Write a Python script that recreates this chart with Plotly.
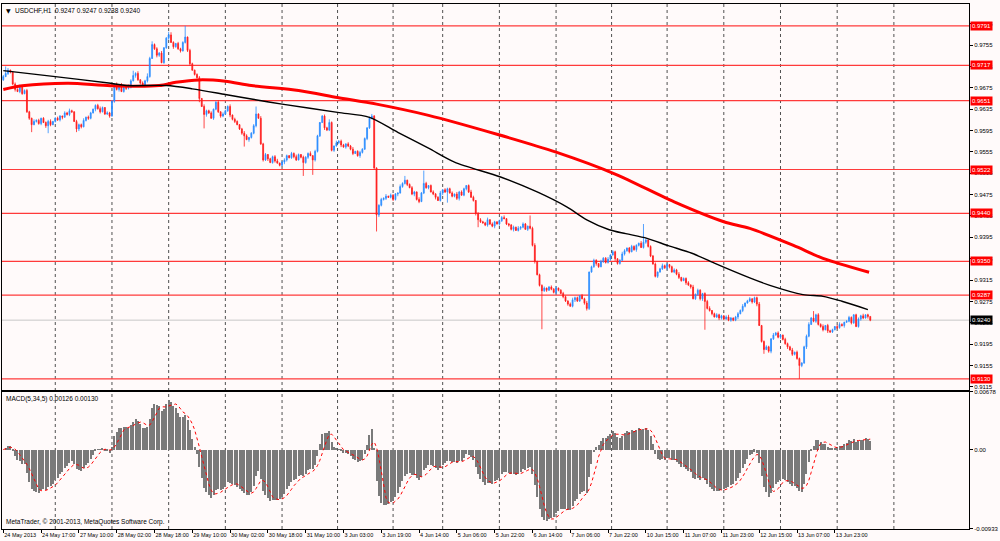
import plotly.graph_objects as go

# ------------------------------------------------------------------ data
SYMBOL_TEXT = "USDCHF,H1  0.9247 0.9247 0.9238 0.9240"
MACD_TEXT = "MACD(5,34,5) 0.00126 0.00130"
COPYRIGHT = "MetaTrader, \u00a9 2001-2013, MetaQuotes Software Corp."

OPEN_FIRST_PIPS = 9690
# hourly closes (price * 10000), bar 0 = 24 May 2013
CLOSE_PIPS = [
    9696, 9702, 9708, 9704, 9682, 9672, 9668, 9676, 9664, 9670,
    9630, 9618, 9606, 9612, 9614, 9608, 9618, 9610, 9604, 9612, 9606,
    9612, 9618, 9615, 9622, 9620, 9628, 9625, 9632, 9630, 9612, 9598,
    9606, 9602, 9614, 9620, 9618, 9628, 9635, 9642,
    9636, 9630, 9638, 9626, 9628, 9622, 9650, 9682, 9672, 9680, 9668, 9676, 9674,
    # 53..104
    9676, 9688, 9698, 9702, 9690, 9684, 9680, 9688, 9696, 9730, 9756,
    9748, 9736, 9740, 9722, 9750, 9768, 9774, 9760, 9752, 9758, 9748, 9744, 9760,
    9770, 9745, 9720, 9708, 9700, 9694, 9655, 9640, 9625, 9632,
    9628, 9618, 9635, 9648, 9630, 9622, 9626, 9632, 9640, 9624, 9616, 9612,
    9606, 9598, 9590, 9585, 9578, 9582,
    # 105..157
    9590, 9604, 9626, 9618, 9570, 9540, 9550, 9542, 9535, 9546, 9538,
    9534, 9530, 9536, 9540, 9548, 9544, 9552, 9546, 9540, 9550, 9545, 9535,
    9545, 9552, 9548, 9540, 9556, 9585, 9610, 9622, 9600, 9596, 9610, 9558,
    9566, 9572, 9575, 9568, 9564, 9570, 9566, 9560, 9552, 9556, 9548, 9554, 9560,
    9580, 9600, 9618, 9622, 9525,
    # 158..210
    9437, 9455, 9466, 9468, 9472, 9470, 9474, 9466, 9476, 9478,
    9490, 9496, 9502, 9494, 9488, 9476, 9480, 9466, 9462, 9478, 9496,
    9488, 9492, 9480, 9476, 9470, 9464, 9478, 9484, 9480, 9486, 9478,
    9472, 9476, 9468, 9480, 9474, 9486, 9492, 9480, 9470, 9464,
    9440, 9428, 9424, 9422, 9418, 9428, 9420, 9416, 9424, 9420, 9426,
    # 211..263
    9432, 9430, 9420, 9418, 9410, 9414, 9408, 9412, 9414, 9420, 9410, 9416, 9412,
    9380, 9350, 9325, 9305, 9295, 9300, 9296, 9302, 9298, 9292, 9300, 9296, 9290,
    9284, 9276, 9270, 9266, 9278, 9282, 9276, 9286, 9280, 9272, 9262, 9330,
    9340, 9352, 9346, 9340, 9350, 9356, 9348, 9354, 9362, 9368, 9355, 9346, 9352, 9364, 9370,
    # 264..315
    9375, 9368, 9378, 9372, 9380, 9384, 9376, 9386, 9390, 9378, 9360, 9345, 9322,
    9330, 9336, 9342, 9338, 9344, 9340, 9330, 9334, 9326, 9320, 9314, 9318, 9310, 9306, 9302,
    9280, 9288, 9296, 9280, 9290, 9275, 9262, 9258, 9252,
    9246, 9250, 9244, 9248, 9242, 9246, 9240, 9244, 9240, 9246, 9252, 9258, 9266, 9272, 9276,
    # 316..367
    9280, 9274, 9282, 9270, 9230, 9200, 9185, 9190, 9182, 9205, 9212, 9216, 9208, 9212,
    9204, 9196, 9190, 9184, 9176, 9180, 9168, 9155, 9160, 9190, 9210, 9232,
    9244, 9238, 9250, 9232, 9228, 9222, 9230, 9220, 9218,
    9222, 9228, 9226, 9232, 9230, 9236, 9238, 9245, 9235, 9250, 9228, 9242,
    9248, 9244, 9250, 9247, 9240,
]

# estimated wick lengths (pips) above / below the candle body
UPPER_WICK = [
    3, 2, 4, 1, 2, 3, 2, 5, 1, 2, 3, 2, 1, 4, 2, 3, 1, 2, 2, 3, 4, 1, 2, 3, 2, 1, 3, 2, 4, 2, 1, 3, 2, 2, 4, 1, 3, 2, 1, 2, 3, 4, 2, 1, 3, 2,
    2, 1, 3, 2, 4, 2, 1, 5, 3, 2, 2, 4, 1, 3, 2, 6, 3, 1, 2, 3, 2, 4, 1, 2, 3, 5, 2, 1, 3, 2, 2, 4, 1, 3, 2, 1, 2, 3, 1, 4, 2, 2, 3, 1, 2, 4,
    1, 3, 2, 2, 4, 1, 3, 2, 1, 2, 4, 3, 1, 2, 3, 2, 1, 4, 2, 3, 1, 2, 2, 3, 4, 1, 2, 3, 2, 1, 3, 2, 4, 2, 1, 3, 2, 2, 4, 1, 3, 2, 1, 2, 3, 2,
    3, 2, 1, 4, 2, 3, 2, 1, 3, 2, 4, 1, 2, 3, 2, 2, 1, 3, 4, 2, 1, 2, 3, 2, 4, 1, 3, 2, 2, 1, 4, 2, 3, 1, 2, 3, 2, 1, 4, 2, 2, 3, 1, 2, 3, 2,
    2, 4, 1, 3, 2, 2, 3, 1, 4, 2, 3, 2, 1, 2, 4, 3, 1, 2, 3, 2, 2, 4, 1, 3, 2, 1, 2, 3, 4, 1, 2, 2, 3, 1, 4, 2, 3, 2, 1, 2, 3, 4, 1, 2, 2, 3,
    1, 2, 3, 2, 4, 1, 2, 3, 2, 1, 3, 4, 2, 2, 1, 3, 2, 4, 1, 2, 3, 2, 1, 3, 2, 2, 4, 1, 3, 2, 1, 2, 4, 3, 1, 2, 3, 2, 2, 1, 4, 2, 3, 1, 2, 2,
    3, 1, 2, 4, 2, 3, 1, 2, 3, 2, 4, 1, 2, 2, 3, 1, 4, 2, 3, 2, 1, 2, 3, 4, 1, 2, 3, 2, 2, 1, 3, 4, 2, 1, 2, 3, 2, 4, 1, 2, 3, 1, 2, 2, 4, 1,
    2, 3, 2, 1, 4, 2, 3, 2, 1, 3, 2, 2, 4, 1, 3, 2, 1, 2, 3, 4, 2, 1, 2, 3, 2, 4, 1, 3, 2, 2, 1, 3, 4, 2, 1, 2, 3, 2, 1, 2, 3, 2, 4, 1, 2, 0,
]
LOWER_WICK = [
    2, 1, 3, 2, 2, 4, 1, 3, 2, 1, 2, 3, 4, 1, 2, 2, 3, 1, 4, 2, 3, 1, 2, 2, 3, 4, 1, 2, 3, 2, 1, 2, 4, 3, 1, 2, 3, 2, 1, 4, 2, 3, 1, 2, 2, 3,
    1, 3, 2, 4, 1, 2, 3, 2, 2, 1, 4, 2, 3, 1, 2, 3, 2, 1, 2, 4, 3, 1, 2, 2, 3, 1, 4, 2, 2, 3, 1, 2, 3, 4, 1, 2, 2, 3, 1, 2, 4, 2, 1, 3, 2, 2,
    3, 2, 1, 2, 4, 2, 3, 1, 2, 3, 2, 1, 4, 2, 2, 3, 1, 2, 3, 2, 4, 1, 2, 3, 1, 2, 2, 4, 3, 1, 2, 3, 2, 1, 2, 4, 2, 3, 1, 2, 3, 2, 2, 1, 4, 2,
    2, 2, 3, 1, 2, 4, 1, 3, 2, 2, 3, 1, 2, 4, 2, 1, 3, 2, 2, 3, 1, 4, 2, 2, 3, 1, 2, 3, 2, 4, 1, 2, 2, 3, 1, 2, 4, 2, 3, 1, 2, 2, 3, 1, 2, 4,
    1, 2, 4, 2, 3, 1, 2, 2, 3, 4, 1, 2, 3, 2, 1, 2, 4, 3, 2, 1, 2, 3, 2, 2, 4, 1, 3, 2, 1, 2, 3, 2, 4, 1, 2, 3, 2, 1, 3, 2, 2, 4, 1, 2, 3, 2,
    3, 1, 2, 2, 4, 2, 1, 3, 2, 3, 1, 2, 4, 2, 2, 1, 3, 2, 3, 1, 2, 4, 2, 1, 3, 2, 2, 3, 1, 4, 2, 2, 1, 3, 2, 3, 1, 2, 4, 2, 1, 2, 3, 2, 2, 1,
    2, 3, 1, 2, 2, 4, 3, 1, 2, 2, 3, 2, 1, 4, 2, 3, 1, 2, 2, 3, 4, 1, 2, 2, 3, 1, 2, 4, 3, 2, 1, 2, 3, 2, 2, 4, 1, 3, 2, 1, 2, 3, 2, 4, 1, 2,
    2, 1, 3, 4, 2, 1, 2, 3, 2, 2, 4, 1, 3, 2, 2, 1, 3, 2, 4, 2, 1, 2, 3, 2, 2, 3, 1, 4, 2, 2, 1, 3, 2, 2, 4, 1, 2, 3, 2, 1, 2, 3, 2, 1, 4, 2,
]
# notable spikes (bar index -> price in pips)
HIGH_SPIKES = {1: 9715, 55: 9707, 63: 9762, 70: 9780, 77: 9791, 107: 9640, 138: 9616,
               170: 9510, 178: 9520, 223: 9436, 271: 9420, 343: 9257, 367: 9247}
LOW_SPIKES = {12: 9592, 19: 9590, 31: 9592, 83: 9648, 85: 9599, 102: 9565, 127: 9510,
              131: 9512, 158: 9406, 188: 9460, 201: 9414, 228: 9223, 247: 9258,
              297: 9222, 322: 9177, 337: 9130, 367: 9238}

TICK_EVERY = 16
TICK_LABELS = ["24 May 2013", "24 May 17:00", "27 May 10:00", "28 May 02:00", "28 May 18:00",
               "29 May 10:00", "30 May 02:00", "30 May 18:00", "31 May 10:00", "3 Jun 03:00",
               "3 Jun 19:00", "4 Jun 14:00", "5 Jun 06:00", "5 Jun 22:00", "6 Jun 14:00",
               "7 Jun 06:00", "7 Jun 22:00", "10 Jun 15:00", "11 Jun 07:00", "11 Jun 23:00",
               "12 Jun 15:00", "13 Jun 07:00", "13 Jun 23:00"]
DAY_BARS = [22, 46, 70, 94, 118, 141.5, 165, 186, 210, 234, 257.5, 281, 305, 329, 353, 377]

PRICE_TICKS = [0.9115, 0.9155, 0.9195, 0.9235, 0.9275, 0.9315, 0.9355, 0.9395, 0.9435,
               0.9475, 0.9515, 0.9555, 0.9595, 0.9635, 0.9675, 0.9715, 0.9755, 0.9795]
LEVELS = [0.9791, 0.9717, 0.9651, 0.9522, 0.9440, 0.9350, 0.9287, 0.9130]
LAST_PRICE = 0.9240

BLACK_MA_BAR = [0, 22, 45.5, 52, 69, 80, 94, 105, 118, 141.5, 155, 167, 180, 191, 210.5,
                226, 238.5, 247, 256.5, 263.5, 272.5, 281.5, 291.5, 301, 316, 324.5,
                338.5, 347, 355, 366]
BLACK_MA_VAL = [0.97072, 0.96960, 0.96835, 0.96792, 0.96792, 0.96731, 0.96625, 0.96541,
                0.96444, 0.96290, 0.96197, 0.95917, 0.95620, 0.95359, 0.95080, 0.94800,
                0.94521, 0.94279, 0.94093, 0.94019, 0.93931, 0.93795, 0.93652, 0.93466,
                0.93190, 0.93051, 0.92878, 0.92846, 0.92753, 0.92598]
RED_MA_BAR = [0, 8, 27.5, 45.5, 66, 73, 83, 94, 105, 125, 141.5, 158, 180, 209, 234, 259,
              284, 305, 316, 334.5, 347, 366.5]
RED_MA_VAL = [0.96718, 0.96787, 0.96835, 0.96787, 0.96792, 0.96854, 0.96898, 0.96872,
              0.96792, 0.96699, 0.96569, 0.96444, 0.96234, 0.95880, 0.95545, 0.95135,
              0.94614, 0.94242, 0.94117, 0.93800, 0.93558, 0.93297]

MACD_FAST, MACD_SLOW, MACD_SIGNAL = 5, 34, 5
MACD_RANGE = [-0.00933, 0.00678]
MACD_TICKS = [0.00678, 0.0, -0.00933]
MACD_TICKTEXT = ["0.00678", "0.00", "-0.00933"]

# ------------------------------------------------------------------ derived series
N = len(CLOSE_PIPS)
bars = list(range(N))
close = [c / 10000 for c in CLOSE_PIPS]
opens_p = [OPEN_FIRST_PIPS] + CLOSE_PIPS[:-1]
opn = [o / 10000 for o in opens_p]
high, low = [], []
for i in range(N):
    top = max(opens_p[i], CLOSE_PIPS[i])
    bot = min(opens_p[i], CLOSE_PIPS[i])
    uw = UPPER_WICK[i] if i < len(UPPER_WICK) else 0
    lw = LOWER_WICK[i] if i < len(LOWER_WICK) else 0
    high.append(HIGH_SPIKES.get(i, top + uw) / 10000)
    low.append(LOW_SPIKES.get(i, bot - lw) / 10000)


def ema(vals, n):
    a = 2.0 / (n + 1)
    out = [vals[0]]
    for v in vals[1:]:
        out.append(out[-1] + a * (v - out[-1]))
    return out


ef = ema(close, MACD_FAST)
es = ema(close, MACD_SLOW)
macd = [f - s for f, s in zip(ef, es)]
signal = []
for i in range(N):
    w = macd[max(0, i - MACD_SIGNAL + 1): i + 1]
    signal.append(sum(w) / len(w))

# ------------------------------------------------------------------ figure
BLUE = "#2A8CFF"
RED = "#FF1A1A"
BG = "#FFFAFA"
FONT = "Liberation Sans"

fig = go.Figure()
fig.add_trace(go.Candlestick(
    x=bars, open=opn, high=high, low=low, close=close,
    increasing=dict(line=dict(color=BLUE, width=0.8), fillcolor=BLUE),
    decreasing=dict(line=dict(color=RED, width=0.8), fillcolor=RED),
    whiskerwidth=0, xaxis="x", yaxis="y", hoverinfo="skip",
))
fig.add_trace(go.Scatter(x=RED_MA_BAR, y=RED_MA_VAL, mode="lines",
                         line=dict(color="#FF0000", width=3, shape="spline", smoothing=0.8),
                         xaxis="x", yaxis="y", hoverinfo="skip"))
fig.add_trace(go.Scatter(x=BLACK_MA_BAR, y=BLACK_MA_VAL, mode="lines",
                         line=dict(color="#000000", width=1.4, shape="spline", smoothing=0.8),
                         xaxis="x", yaxis="y", hoverinfo="skip"))
fig.add_trace(go.Bar(x=bars, y=macd, width=0.45, marker=dict(color="#7A7A7A", line=dict(width=0)),
                     xaxis="x2", yaxis="y2", hoverinfo="skip"))
fig.add_trace(go.Scatter(x=bars, y=signal, mode="lines",
                         line=dict(color="#FF0000", width=1, dash="dot"),
                         xaxis="x2", yaxis="y2", hoverinfo="skip"))

shapes = []
for d in DAY_BARS:
    shapes.append(dict(type="line", xref="x", yref="paper", x0=d, x1=d, y0=0, y1=1,
                       line=dict(color="#505050", width=1, dash="dot"), layer="below"))
for lv in LEVELS:
    shapes.append(dict(type="line", xref="paper", yref="y", x0=0, x1=1, y0=lv, y1=lv,
                       line=dict(color="#FF3A3A", width=1.2), layer="below"))
shapes.append(dict(type="line", xref="paper", yref="y", x0=0, x1=1, y0=LAST_PRICE, y1=LAST_PRICE,
                   line=dict(color="#C8C8C8", width=1), layer="below"))

LABEL_FONT = 6
annotations = []
for lv in LEVELS:
    annotations.append(dict(xref="paper", yref="y", x=1, y=lv, xanchor="left", yanchor="middle",
                            xshift=1, text=f"{lv:.4f}", showarrow=False, bgcolor="#FF0000",
                            borderpad=1, font=dict(family=FONT, size=LABEL_FONT, color="white")))
annotations.append(dict(xref="paper", yref="y", x=1, y=LAST_PRICE, xanchor="left", yanchor="middle",
                        xshift=1, text=f"{LAST_PRICE:.4f}", showarrow=False, bgcolor="#000000",
                        borderpad=1, font=dict(family=FONT, size=LABEL_FONT, color="white")))
annotations.append(dict(xref="paper", yref="paper", x=0, y=1, xanchor="left", yanchor="top",
                        xshift=2, yshift=-1, text="\u25bc", showarrow=False,
                        font=dict(family="DejaVu Sans", size=6, color="#000000")))
annotations.append(dict(xref="paper", yref="paper", x=0, y=1, xanchor="left", yanchor="top",
                        xshift=11, yshift=-1, text=SYMBOL_TEXT, showarrow=False,
                        font=dict(family=FONT, size=6.5, color="#000000")))
annotations.append(dict(xref="paper", yref="paper", x=0, y=0.2614, xanchor="left", yanchor="top",
                        xshift=2, yshift=-1, text=MACD_TEXT, showarrow=False,
                        font=dict(family=FONT, size=6.5, color="#000000")))
annotations.append(dict(xref="paper", yref="paper", x=0, y=0, xanchor="left", yanchor="bottom",
                        xshift=2, yshift=1, text=COPYRIGHT, showarrow=False,
                        font=dict(family=FONT, size=6.5, color="#000000")))

yaxis_font = dict(family=FONT, size=6, color="#000000")
xaxis_font = dict(family=FONT, size=5.5, color="#000000")
XR = [-0.55, 408.8]
fig.update_layout(
    width=1000, height=541,
    margin=dict(l=1, r=23, t=1, b=12),
    paper_bgcolor=BG, plot_bgcolor=BG,
    showlegend=False, bargap=0, boxgap=0.45,
    shapes=shapes, annotations=annotations,
    xaxis=dict(domain=[0, 1], anchor="y", range=XR, showticklabels=False, ticks="",
               showgrid=False, zeroline=False, showline=True, mirror=True,
               linecolor="#000000", linewidth=1, rangeslider=dict(visible=False)),
    xaxis2=dict(domain=[0, 1], anchor="y2", matches="x", range=XR,
                tickmode="array", tickvals=[k * TICK_EVERY for k in range(len(TICK_LABELS))],
                ticktext=TICK_LABELS, tickangle=0, ticklabelposition="outside right",
                ticks="outside", ticklen=3, tickcolor="#000000", tickfont=xaxis_font,
                showgrid=False, zeroline=False, showline=True, mirror=True,
                linecolor="#000000", linewidth=1),
    yaxis=dict(domain=[0.26515, 1], anchor="x", range=[0.91096, 0.98319], side="right",
               tickmode="array", tickvals=PRICE_TICKS, ticktext=[f"{t:.4f}" for t in PRICE_TICKS],
               ticks="outside", ticklen=3, tickcolor="#000000", tickfont=yaxis_font,
               showgrid=False, zeroline=False, showline=True, mirror=True,
               linecolor="#000000", linewidth=1),
    yaxis2=dict(domain=[0, 0.26136], anchor="x2", range=MACD_RANGE, side="right",
                tickmode="array", tickvals=MACD_TICKS, ticktext=MACD_TICKTEXT,
                ticks="outside", ticklen=3, tickcolor="#000000", tickfont=yaxis_font,
                showgrid=False, zeroline=False, showline=True, mirror=True,
                linecolor="#000000", linewidth=1),
)

fig.write_html("out.html", config={"displayModeBar": False},
               post_script="document.body.style.margin='0px';")
